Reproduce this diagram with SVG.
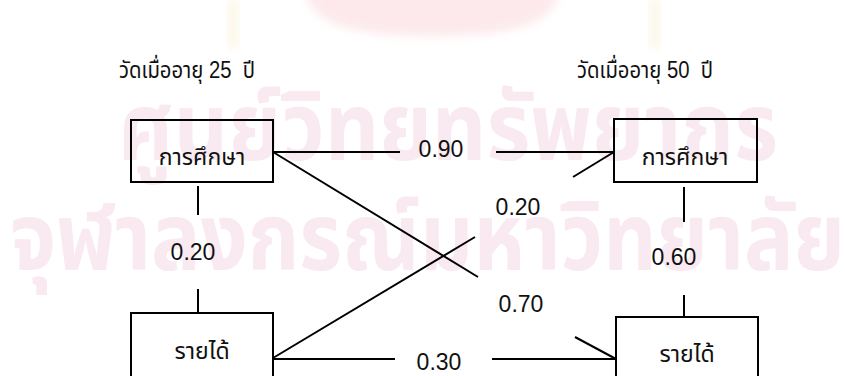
<svg xmlns="http://www.w3.org/2000/svg" width="845" height="376" viewBox="0 0 845 376">
<defs>
<filter id="soft" x="-20%" y="-50%" width="140%" height="200%"><feGaussianBlur stdDeviation="5"/></filter>
</defs>
<style>
.wm{font-family:"Noto Sans Thai","Noto Sans","DejaVu Sans",sans-serif;font-weight:bold;fill:#f9e9f0}
.t{font-family:"Liberation Sans","Noto Sans Thai","Noto Sans",sans-serif;font-size:23px;fill:#111;text-anchor:middle}
.box{fill:none;stroke:#000;stroke-width:2}
.ln{stroke:#000;stroke-width:2;fill:none}
</style>
<rect width="845" height="376" fill="#fff"/>
<g id="watermark">
<path d="M305,-10 L560,-10 C555,22 520,36 432,36 C345,36 310,22 305,-10 Z" fill="#fde9ec" filter="url(#soft)"/>
<rect x="228" y="0" width="10" height="48" fill="#fcf6e6" filter="url(#soft)"/>
<rect x="650" y="0" width="10" height="48" fill="#fcf6e6" filter="url(#soft)"/>
<text class="wm" x="118" y="160" font-size="95" textLength="660" lengthAdjust="spacingAndGlyphs">ศูนย์วิทยทรัพยากร</text>
<text class="wm" x="10" y="270" font-size="95" textLength="835" lengthAdjust="spacingAndGlyphs">จุฬาลงกรณ์มหาวิทยาลัย</text>
</g>
<g id="titles">
<text class="t" x="187" y="78" xml:space="preserve" textLength="136" lengthAdjust="spacingAndGlyphs">วัดเมื่ออายุ 25  ปี</text>
<text class="t" x="645" y="78" xml:space="preserve" textLength="136" lengthAdjust="spacingAndGlyphs">วัดเมื่ออายุ 50  ปี</text>
</g>
<g id="connectors">
<line class="ln" x1="273" y1="152" x2="400" y2="152"/>
<line class="ln" x1="496" y1="152" x2="614" y2="152"/>
<line class="ln" x1="273" y1="358" x2="475" y2="237"/>
<line class="ln" x1="573" y1="177" x2="614" y2="152"/>
<line class="ln" x1="273" y1="152" x2="478" y2="277"/>
<line class="ln" x1="575" y1="337" x2="616" y2="359"/>
<line class="ln" x1="273" y1="359" x2="395" y2="359"/>
<line class="ln" x1="492" y1="359" x2="616" y2="359"/>
<line class="ln" x1="198" y1="186" x2="198" y2="215"/>
<line class="ln" x1="198" y1="289" x2="198" y2="313"/>
<line class="ln" x1="684" y1="187" x2="684" y2="222"/>
<line class="ln" x1="684" y1="295" x2="684" y2="317"/>
<text class="t" x="441" y="157">0.90</text>
<text class="t" x="518" y="215">0.20</text>
<text class="t" x="193" y="260">0.20</text>
<text class="t" x="674" y="265">0.60</text>
<text class="t" x="521" y="312">0.70</text>
<text class="t" x="439" y="370">0.30</text>
</g>
<g id="edu25">
<rect class="box" x="131" y="120" width="142" height="62"/>
<text class="t" x="202" y="165">การศึกษา</text>
</g>
<g id="edu50">
<rect class="box" x="614" y="119" width="143" height="63"/>
<text class="t" x="685" y="165">การศึกษา</text>
</g>
<g id="inc25">
<rect class="box" x="131" y="313" width="142" height="100"/>
<text class="t" x="202" y="359">รายได้</text>
</g>
<g id="inc50">
<rect class="box" x="616" y="317" width="142" height="100"/>
<text class="t" x="687" y="362">รายได้</text>
</g>
</svg>
